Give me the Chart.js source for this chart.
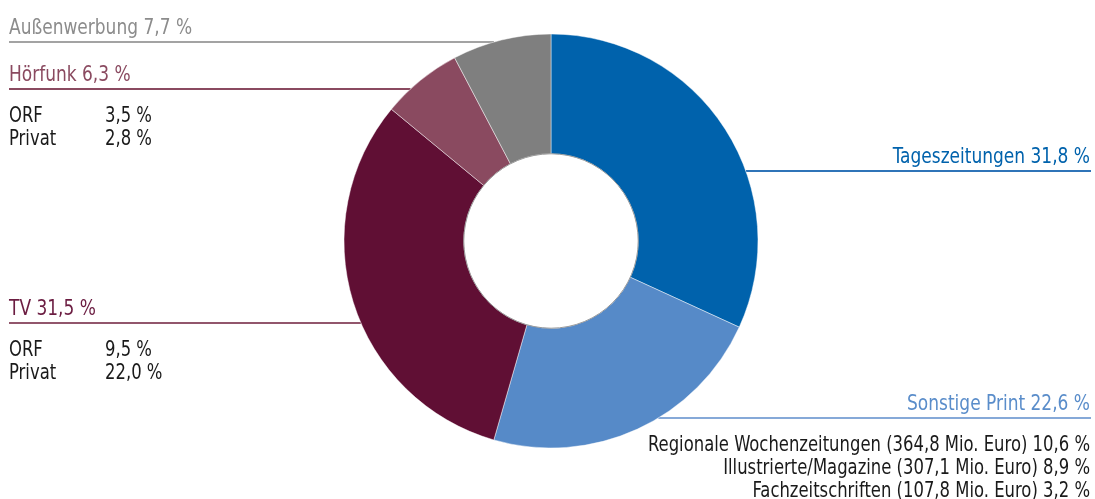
<!DOCTYPE html>
<html>
<head>
<meta charset="utf-8">
<script src="https://cdn.jsdelivr.net/npm/chart.js@4/dist/chart.umd.min.js"></script>
<style>
  html, body { margin: 0; padding: 0; background: #fff; }
  #wrap { width: 1095px; height: 499px; position: relative; }
</style>
</head>
<body>
<div id="wrap"><canvas id="adChart" width="1095" height="499"></canvas></div>
<script>
// Werbemarkt-Anteile (in %)
var categories = ['Tageszeitungen', 'Sonstige Print', 'TV', 'Hörfunk', 'Außenwerbung'];
var shares     = [31.8, 22.6, 31.5, 6.3, 7.7];
var sliceColors = ['#0062ac', '#568ac8', '#600f34', '#8a4a60', '#7f7f7f'];

// Aufschlüsselung
var tvSub        = ['ORF', 'Privat'];
var tvSubVal     = [9.5, 22.0];
var radioSub     = ['ORF', 'Privat'];
var radioSubVal  = [3.5, 2.8];
var printSub     = ['Regionale Wochenzeitungen (364,8 Mio. Euro)', 'Illustrierte/Magazine (307,1 Mio. Euro)', 'Fachzeitschriften (107,8 Mio. Euro)'];
var printSubVal  = [10.6, 8.9, 3.2];

// label styling / placement
var labelLayout = [
  { side: 'right', lineY: 171, text: '#0062ac', line: '#2f74b8' },
  { side: 'right', lineY: 418, text: '#5a8dca', line: '#86a9d8', sub: printSub, subVal: printSubVal },
  { side: 'left',  lineY: 323, text: '#6b1c41', line: '#92566c', sub: tvSub, subVal: tvSubVal },
  { side: 'left',  lineY: 89,  text: '#8a4a60', line: '#8a4a60', sub: radioSub, subVal: radioSubVal },
  { side: 'left',  lineY: 42,  text: '#8c8c8c', line: '#a3a3a3' }
];

var FONT = "'Liberation Sans Narrow', 'Arial Narrow', 'DejaVu Sans Condensed', sans-serif";
var TITLE_SX = 0.86;   // squeeze to look like the condensed print font
var SUB_SX = 0.87;

function fmt(v) {
  return v.toFixed(1).replace('.', ',') + ' %';
}

// draw text squeezed horizontally, anchored at x
function squeezed(ctx, txt, x, y, align, sx) {
  ctx.save();
  ctx.translate(x, y);
  ctx.scale(sx, 1);
  ctx.textAlign = align;
  ctx.fillText(txt, 0, 0);
  ctx.restore();
}

function edgeX(arc, y, side) {
  var dy = y - arc.y;
  var r = arc.outerRadius;
  var dx = Math.sqrt(Math.max(r * r - dy * dy, 0));
  return side == 'left' ? arc.x - dx : arc.x + dx;
}

var leaderLines = {
  id: 'leaderLines',
  beforeDatasetsDraw: function(chart) {
    var ctx = chart.ctx;
    var arc = chart.getDatasetMeta(0).data[0];
    var W = chart.width;
    ctx.save();
    ctx.lineWidth = 2;
    labelLayout.forEach(function(l) {
      ctx.strokeStyle = l.line;
      ctx.beginPath();
      if (l.side == 'left') {
        ctx.moveTo(9, l.lineY);
        ctx.lineTo(edgeX(arc, l.lineY, 'left'), l.lineY);
      } else {
        ctx.moveTo(edgeX(arc, l.lineY, 'right'), l.lineY);
        ctx.lineTo(W - 4, l.lineY);
      }
      ctx.stroke();
    });
    ctx.restore();
  },
  afterDatasetsDraw: function(chart) {
    var ctx = chart.ctx;
    var arc = chart.getDatasetMeta(0).data[0];
    var W = chart.width;
    ctx.save();
    // thin grey rim round the hole
    ctx.strokeStyle = '#9a9a9a';
    ctx.lineWidth = 1;
    ctx.beginPath();
    ctx.arc(arc.x, arc.y, arc.innerRadius, 0, Math.PI * 2);
    ctx.stroke();

    ctx.textBaseline = 'alphabetic';
    labelLayout.forEach(function(l, i) {
      var title = categories[i] + ' ' + fmt(shares[i]);
      ctx.font = '22px ' + FONT;
      ctx.fillStyle = l.text;
      if (l.side == 'left') {
        squeezed(ctx, title, 9, l.lineY - 8, 'left', TITLE_SX);
      } else {
        squeezed(ctx, title, W - 5, l.lineY - 8, 'right', TITLE_SX);
      }
      if (!l.sub) return;
      ctx.font = '21px ' + FONT;
      ctx.fillStyle = '#1a1a1a';
      l.sub.forEach(function(s, k) {
        var y = l.lineY + 33 + k * 23;
        if (l.side == 'left') {
          squeezed(ctx, s, 9, y, 'left', SUB_SX);
          squeezed(ctx, fmt(l.subVal[k]), 105, y, 'left', SUB_SX);
        } else {
          squeezed(ctx, s + ' ' + fmt(l.subVal[k]), W - 5, y, 'right', SUB_SX);
        }
      });
    });
    ctx.restore();
  }
};

var chart = new Chart(document.getElementById('adChart'), {
  type: 'doughnut',
  data: {
    labels: categories,
    datasets: [{
      data: shares,
      backgroundColor: sliceColors,
      borderColor: 'rgba(255,255,255,0.45)',
      borderWidth: 1,
      radius: 207,
      cutout: 87
    }]
  },
  options: {
    responsive: false,
    animation: false,
    layout: { padding: { left: 344, right: 337, top: 34, bottom: 51 } },
    plugins: {
      legend: { display: false },
      tooltip: { enabled: false }
    }
  },
  plugins: [leaderLines]
});
</script>
</body>
</html>
